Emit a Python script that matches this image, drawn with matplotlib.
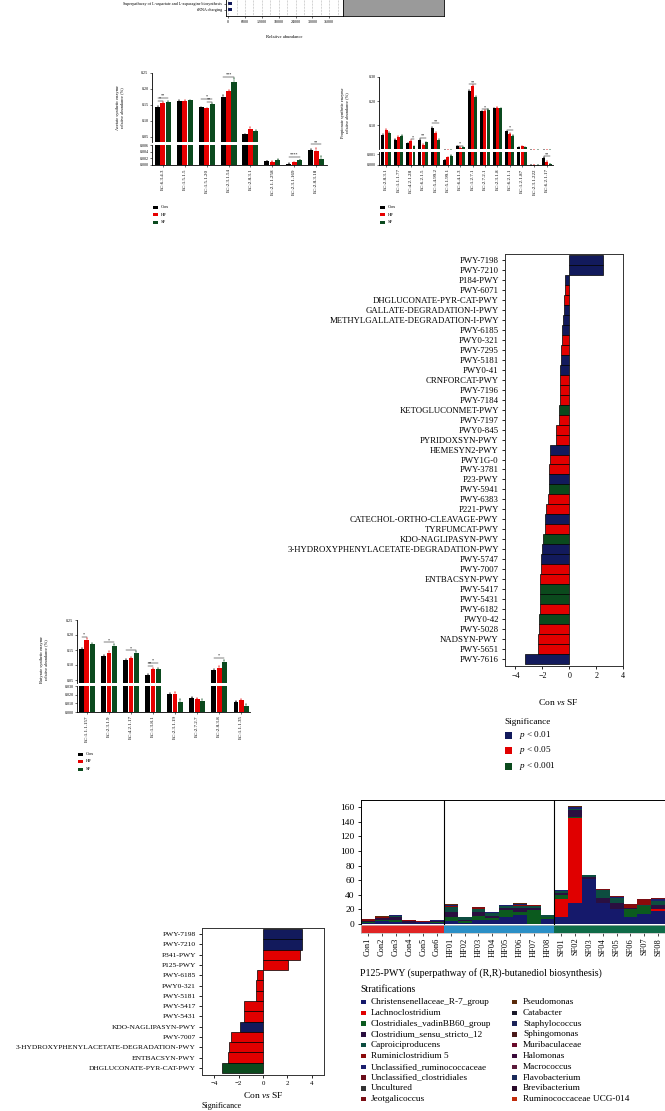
import numpy as np
import matplotlib
matplotlib.use("Agg")
import matplotlib.pyplot as plt
from matplotlib.patches import Rectangle

plt.rcParams["font.family"] = ["Liberation Serif", "DejaVu Serif"]
plt.rcParams["mathtext.fontset"] = "custom"
plt.rcParams["mathtext.rm"] = "Liberation Serif"
plt.rcParams["mathtext.it"] = "Liberation Serif:italic"

W, H = 665, 1111
NAVY, RED, GREEN = "#121a5c", "#e10000", "#0b4a1d"
GRP_COLORS = ["#000000", "#e60000", "#0b4a1e"]
GRP_NAMES = ["Con", "HF", "SF"]

# ── top strip (relative abundance) ───────────────────────────────────────────
top_paths = ["Superpathway of L-aspartate and L-asparagine biosynthesis", "tRNA charging"]
top_vals = [1500, 1500]

# ── acetate synthetic enzymes ────────────────────────────────────────────────
ace_ec = ["EC:6.3.4.3", "EC:1.5.1.5", "EC:1.5.1.20", "EC:2.3.1.54", "EC:2.8.3.1",
          "EC:2.1.1.258", "EC:2.3.1.169", "EC:2.8.3.18"]
ace_con = [0.143, 0.162, 0.142, 0.175, 0.058, 0.0012, 0.0004, 0.0046]
ace_hf = [0.155, 0.162, 0.139, 0.193, 0.075, 0.0010, 0.0008, 0.0043]
ace_sf = [0.158, 0.164, 0.152, 0.222, 0.068, 0.0016, 0.0015, 0.0018]
ace_err_con = [0.003, 0.002, 0.002, 0.006, 0.002, 0.0001, 0.0001, 0.0003]
ace_err_hf = [0.003, 0.002, 0.002, 0.004, 0.006, 0.0001, 0.0001, 0.0007]
ace_err_sf = [0.003, 0.002, 0.003, 0.012, 0.003, 0.0001, 0.0001, 0.0008]
ace_sig = [(0, 0, 1, 0.163, "*"), (0, 0, 2, 0.172, "**"), (2, 0, 2, 0.170, "*"),
           (2, 1, 2, 0.160, "**"), (3, 0, 2, 0.238, "***"), (6, 0, 2, 0.0025, "****"),
           (7, 0, 2, 0.0063, "**")]

# ── propionate synthetic enzymes ─────────────────────────────────────────────
pro_ec = ["EC:2.8.3.1", "EC:1.1.1.77", "EC:4.2.1.28", "EC:6.2.1.5", "EC:5.4.99.2",
          "EC:5.1.99.1", "EC:6.4.1.3", "EC:1.2.7.1", "EC:2.7.2.1", "EC:2.3.1.8",
          "EC:6.2.1.1", "EC:1.2.1.87", "EC:2.3.1.222", "EC:6.2.1.17"]
pro_con = [0.060, 0.042, 0.026, 0.039, 0.089, 0.00047, 0.0135, 0.243, 0.158, 0.172,
           0.076, 0.011, 0.00001, 0.00069]
pro_hf = [0.080, 0.053, 0.036, 0.019, 0.068, 0.0007, 0.009, 0.262, 0.161, 0.174,
          0.066, 0.0135, 0.00001, 0.00028]
pro_sf = [0.069, 0.058, 0.0135, 0.030, 0.039, 0.00085, 0.011, 0.219, 0.165, 0.172,
          0.058, 0.011, 0.00001, 0.0001]
pro_err_con = [0.003, 0.002, 0.003, 0.004, 0.003, 0.00003, 0.002, 0.004, 0.002, 0.002,
               0.003, 0.002, 0.0, 0.00005]
pro_err_hf = [0.004, 0.003, 0.005, 0.003, 0.004, 0.00005, 0.002, 0.006, 0.002, 0.002,
              0.003, 0.002, 0.0, 0.00005]
pro_err_sf = [0.003, 0.003, 0.002, 0.003, 0.005, 0.00005, 0.002, 0.004, 0.002, 0.002,
              0.003, 0.002, 0.0, 0.00002]
pro_sig = [(2, 1, 2, 0.043, "*"), (3, 0, 2, 0.050, "**"), (4, 0, 2, 0.110, "**"),
           (6, 0, 2, 0.017, "*"), (7, 0, 2, 0.270, "**"), (8, 0, 2, 0.168, "*"),
           (10, 0, 2, 0.083, "*"), (13, 0, 2, 0.0008, "**")]

# ── butyrate synthetic enzymes ───────────────────────────────────────────────
but_ec = ["EC:1.1.1.157", "EC:2.3.1.9", "EC:4.2.1.17", "EC:1.3.8.1", "EC:2.3.1.19",
          "EC:2.7.2.7", "EC:2.8.3.8", "EC:1.1.1.35"]
but_con = [0.152, 0.131, 0.117, 0.067, 0.0204, 0.0166, 0.083, 0.0117]
but_hf = [0.183, 0.141, 0.124, 0.086, 0.0208, 0.0155, 0.091, 0.0137]
but_sf = [0.169, 0.164, 0.141, 0.087, 0.011, 0.0125, 0.111, 0.0072]
but_err_con = [0.004, 0.003, 0.003, 0.002, 0.001, 0.001, 0.003, 0.0005]
but_err_hf = [0.008, 0.005, 0.003, 0.004, 0.002, 0.0005, 0.007, 0.0012]
but_err_sf = [0.006, 0.005, 0.005, 0.003, 0.004, 0.003, 0.006, 0.0015]
but_sig = [(0, 0, 1, 0.194, "*"), (1, 0, 2, 0.176, "*"), (2, 0, 2, 0.150, "*"),
           (3, 0, 2, 0.108, "*"), (3, 0, 1, 0.097, "**"), (6, 0, 2, 0.124, "*")]

# ── Con vs SF pathways (large) ───────────────────────────────────────────────
big_paths = ["PWY-7198", "PWY-7210", "P184-PWY", "PWY-6071", "DHGLUCONATE-PYR-CAT-PWY",
             "GALLATE-DEGRADATION-I-PWY", "METHYLGALLATE-DEGRADATION-I-PWY", "PWY-6185",
             "PWY0-321", "PWY-7295", "PWY-5181", "PWY0-41", "CRNFORCAT-PWY", "PWY-7196",
             "PWY-7184", "KETOGLUCONMET-PWY", "PWY-7197", "PWY0-845", "PYRIDOXSYN-PWY",
             "HEMESYN2-PWY", "PWY1G-0", "PWY-3781", "P23-PWY", "PWY-5941", "PWY-6383",
             "P221-PWY", "CATECHOL-ORTHO-CLEAVAGE-PWY", "TYRFUMCAT-PWY", "KDO-NAGLIPASYN-PWY",
             "3-HYDROXYPHENYLACETATE-DEGRADATION-PWY", "PWY-5747", "PWY-7007", "ENTBACSYN-PWY",
             "PWY-5417", "PWY-5431", "PWY-6182", "PWY0-42", "PWY-5028", "NADSYN-PWY",
             "PWY-5651", "PWY-7616"]
big_vals = [2.5, 2.5, -0.30, -0.35, -0.37, -0.42, -0.47, -0.52, -0.57, -0.60, -0.62,
            -0.67, -0.70, -0.72, -0.72, -0.77, -0.75, -0.97, -1.00, -1.42, -1.42, -1.47,
            -1.54, -1.54, -1.57, -1.74, -1.79, -1.79, -1.94, -2.04, -2.09, -2.09, -2.14,
            -2.19, -2.19, -2.19, -2.24, -2.24, -2.36, -2.36, -3.28]
big_sig = ["n", "n", "n", "r", "r", "n", "n", "n", "r", "r", "n", "n", "r", "r", "r",
           "g", "r", "r", "r", "n", "r", "r", "n", "g", "r", "r", "n", "r", "g", "n",
           "n", "r", "r", "g", "g", "r", "g", "r", "r", "r", "n"]

# ── Con vs SF pathways (small) ───────────────────────────────────────────────
small_paths = ["PWY-7198", "PWY-7210", "P341-PWY", "P125-PWY", "PWY-6185", "PWY0-321",
               "PWY-5181", "PWY-5417", "PWY-5431", "KDO-NAGLIPASYN-PWY", "PWY-7007",
               "3-HYDROXYPHENYLACETATE-DEGRADATION-PWY", "ENTBACSYN-PWY",
               "DHGLUCONATE-PYR-CAT-PWY"]
small_vals = [3.22, 3.22, 3.0, 2.08, -0.46, -0.57, -0.57, -1.57, -1.57, -1.89, -2.62,
              -2.78, -2.84, -3.38]
small_sig = ["n", "n", "r", "r", "r", "r", "r", "r", "r", "n", "r", "r", "r", "g"]
SIG_COLORS = {"n": NAVY, "r": RED, "g": GREEN}
sig_labels = ["$p$ < 0.01", "$p$ < 0.05", "$p$ < 0.001"]

# ── P125-PWY stratified abundance ────────────────────────────────────────────
samples = ["Con1", "Con2", "Con3", "Con4", "Con5", "Con6",
           "HF01", "HF02", "HF03", "HF04", "HF05", "HF06", "HF07", "HF08",
           "SF01", "SF02", "SF03", "SF04", "SF05", "SF06", "SF07", "SF08"]
groups = ["Con"] * 6 + ["HF"] * 8 + ["SF"] * 8
chr7 = [1.0, 4.0, 3.0, 1.0, 2.0, 1.5, 3.5, 1.0, 6.0, 5.0, 9.0, 12.0, 0.5, 7.0,
        9.0, 29.0, 62.0, 28.0, 21.0, 10.0, 13.0, 18.0]
lachno = [0, 0, 0, 0, 0, 0, 0, 0, 0, 0, 0, 0, 0, 0,
          25.0, 116.0, 0, 0, 0, 0, 0, 2.0]
vadin = [1.0, 2.0, 2.0, 0.5, 0, 0.5, 6.0, 3.0, 5.0, 3.0, 10.0, 5.0, 18.0, 3.0,
         5.0, 1.0, 0, 0, 0, 10.0, 11.0, 0]
css12 = [2.0, 2.0, 5.0, 2.0, 1.0, 1.5, 7.0, 2.0, 5.0, 3.0, 3.0, 5.0, 3.0, 0,
         3.0, 10.0, 2.0, 8.0, 7.0, 2.0, 0, 6.0]
caproi = [0, 0, 1.0, 0, 0, 0, 7.0, 3.0, 5.0, 4.0, 2.0, 3.0, 3.0, 2.0,
          3.0, 2.0, 3.0, 10.0, 8.0, 0, 2.0, 6.0]
rum5 = [1.5, 2.0, 0, 2.0, 0.5, 1.0, 1.0, 0, 1.0, 0.5, 1.0, 1.0, 1.0, 0.8,
        0, 0, 0, 0, 0, 4.0, 7.0, 0]
unrum = [0, 0, 1.8, 0, 0, 0.5, 1.0, 0.6, 0.5, 0.5, 0.5, 1.0, 0.5, 0,
         1.0, 2.0, 0, 1.0, 1.0, 0, 0, 2.0]
jeot = [1.4, 0, 0, 0, 0.2, 0, 0.5, 0, 0.5, 0.5, 0.5, 0.5, 0, 0,
        0.6, 0, 0, 0.5, 1.0, 1.0, 1.0, 1.0]
pseudo = [0, 1.0, 0, 0, 0, 0, 1.0, 0, 0, 0, 0, 0.5, 0, 0,
          0, 2.0, 0, 0, 0, 0, 0, 0]
strat_col1 = ["Christensenellaceae_R-7_group", "Lachnoclostridium", "Clostridiales_vadinBB60_group",
              "Clostridium_sensu_stricto_12", "Caproiciproducens", "Ruminiclostridium 5",
              "Unclassified_ruminococcaceae", "Unclassified_clostridiales", "Uncultured",
              "Jeotgalicoccus"]
strat_col2 = ["Pseudomonas", "Catabacter", "Staphylococcus", "Sphingomonas", "Muribaculaceae",
              "Halomonas", "Macrococcus", "Flavobacterium", "Brevibacterium",
              "Ruminococcaceae UCG-014"]
col1_colors = ["#15196b", "#e00000", "#0b5a1e", "#2a0f40", "#0d4d40", "#8b0a0a",
               "#1b1f6e", "#6a0d1a", "#333333", "#7a0e14"]
col2_colors = ["#5a2a0a", "#1a1a2a", "#1c2459", "#4a1a1a", "#6a0a2a", "#3a0a3a",
               "#5a1a3a", "#1a2a5a", "#2a0a2a", "#c02a0a"]
GROUP_STRIP = {"Con": "#e02424", "HF": "#2b8fc6", "SF": "#0f6b48"}

fig = plt.figure(figsize=(W / 100, H / 100), dpi=100)


def pax(x0, y0, x1, y1, **kw):
    """axes placed by pixel box (left, top, right, bottom)."""
    return fig.add_axes([x0 / W, 1 - y1 / H, (x1 - x0) / W, (y1 - y0) / H], **kw)


# ── top strip ────────────────────────────────────────────────────────────────
ax = pax(226, -40, 343, 16)
ax.barh([1, 0], top_vals, height=0.5, left=0, color=NAVY)
ax.set_xlim(-800, 40900); ax.set_ylim(-1, 8.3)
ax.set_xticks(np.arange(0, 36001, 6000))
ax.set_xticks(np.arange(0, 40001, 3000), minor=True)
ax.grid(True, axis="x", which="both", ls=":", lw=0.4, color="#777777")
ax.set_yticks([1, 0], top_paths)
ax.tick_params(labelsize=3, length=1.5, width=0.4, pad=1.5)
ax.tick_params(which="minor", length=0)
ax.set_xlabel("Relative abundance", fontsize=3.3, labelpad=8)
for s in ax.spines.values():
    s.set_linewidth(0.6)
gx = pax(343, -40, 444, 16)
gx.set_facecolor("#9a9a9a"); gx.set_xticks([]); gx.set_yticks([])
for s in gx.spines.values():
    s.set_linewidth(0.6)


def broken_panel(top_box, bot_box, cats, vals, errs, ylim_t, ylim_b, ticks_t, ticks_b,
                 xlim, width, sig):
    a1 = pax(*top_box); a2 = pax(*bot_box)
    x = np.arange(len(cats))
    for a in (a1, a2):
        for k in range(3):
            a.bar(x + (k - 1) * width * 1.08, vals[k], width, yerr=errs[k], color=GRP_COLORS[k],
                  error_kw=dict(elinewidth=0.35, capsize=0.7, capthick=0.35, ecolor=GRP_COLORS[k]))
        a.set_xlim(xlim)
        for s in ("top", "right"):
            a.spines[s].set_visible(False)
        a.spines["left"].set_linewidth(0.6)
        a.spines["bottom"].set_linewidth(0.6)
        a.tick_params(labelsize=3, length=1.5, width=0.4, pad=1)
    a1.set_ylim(ylim_t); a2.set_ylim(ylim_b)
    a1.set_yticks(ticks_t); a2.set_yticks(ticks_b)
    a1.set_yticklabels([f"{t:.2f}" if t >= 0.01 else f"{t:.3f}" for t in ticks_t])
    a2.set_yticklabels([f"{t:.3f}" for t in ticks_b])
    a1.spines["bottom"].set_visible(False)
    a1.set_xticks([])
    a2.set_xticks(x, cats, rotation=90, fontsize=3.6)
    for g, i, j, yv, lab in sig:
        a = a1 if yv > ylim_t[0] else a2
        x0 = g + (i - 1) * width * 1.08
        x1 = g + (j - 1) * width * 1.08
        a.plot([x0, x1], [yv, yv], color="k", lw=0.35, clip_on=False)
        a.text((x0 + x1) / 2, yv, lab, ha="center", va="bottom", fontsize=3, clip_on=False)
    return a1, a2


broken_panel((152, 73, 327, 142), (152, 145, 327, 165), ace_ec,
             [ace_con, ace_hf, ace_sf], [ace_err_con, ace_err_hf, ace_err_sf],
             (0.034, 0.25), (0, 0.006), [0.05, 0.10, 0.15, 0.20, 0.25],
             [0, 0.002, 0.004, 0.006], (-0.5, 7.5), 0.23, ace_sig)
broken_panel((379, 77, 553, 149), (379, 152, 553, 165), pro_ec,
             [pro_con, pro_hf, pro_sf], [pro_err_con, pro_err_hf, pro_err_sf],
             (0.003, 0.3), (0, 0.0012), [0.1, 0.2, 0.3], [0, 0.001],
             (-0.57, 13.5), 0.24, pro_sig)
broken_panel((77, 620, 250, 683), (77, 686, 250, 712), but_ec,
             [but_con, but_hf, but_sf], [but_err_con, but_err_hf, but_err_sf],
             (0.04, 0.25), (0, 0.03), [0.05, 0.10, 0.15, 0.20, 0.25],
             [0, 0.01, 0.02, 0.03], (-0.45, 7.4), 0.22, but_sig)


# ── Con vs SF bar charts ─────────────────────────────────────────────────────
def sig_barh(box, names, vals, sig, xlim, fs):
    a = pax(*box)
    y = np.arange(len(names))
    a.barh(y, vals, height=1.0, color=[SIG_COLORS[s] for s in sig],
           edgecolor="black", linewidth=0.5)
    a.set_ylim(len(names) - 0.3, -0.6)
    a.set_xlim(xlim)
    a.set_yticks(y, names)
    a.set_xticks([-4, -2, 0, 2, 4], ["\u22124", "\u22122", "0", "2", "4"])
    a.tick_params(axis="y", labelsize=fs, length=2.5, width=0.6, pad=2)
    a.tick_params(axis="x", labelsize=fs * 0.92, length=2.5, width=0.6, pad=2)
    for s in a.spines.values():
        s.set_linewidth(0.7); s.set_color("#333333")
    return a


sig_barh((505, 254, 623, 666), big_paths, big_vals, big_sig, (-4.78, 3.9), 6.3)
sig_barh((202, 928, 324, 1075), small_paths, small_vals, small_sig, (-5, 5), 5.4)

# ── stratified stacked bars ──────────────────────────────────────────────────
sx = pax(361, 800, 665, 925)
xs = np.arange(len(samples))
bottom = np.zeros(len(samples))
layers = [(chr7, col1_colors[0]), (lachno, col1_colors[1]), (vadin, col1_colors[2]),
          (css12, col1_colors[3]), (caproi, col1_colors[4]), (rum5, col1_colors[5]),
          (unrum, col1_colors[6]), (jeot, col1_colors[9]), (pseudo, col2_colors[0])]
for vals, c in layers:
    v = np.asarray(vals, dtype=float)
    sx.bar(xs, v, 1.0, bottom=bottom, color=c, linewidth=0)
    bottom += v
sx.axvline(5.5, color="k", lw=0.8); sx.axvline(13.5, color="k", lw=0.8)
sx.set_xlim(-0.5, 21.5); sx.set_ylim(-1.5, 170)
sx.set_yticks(np.arange(0, 161, 20))
sx.set_xticks([])
sx.tick_params(axis="y", labelsize=6.8, length=2.5, width=0.6, pad=2)
for s in sx.spines.values():
    s.set_linewidth(0.7)

st = pax(361, 925, 665, 933)
st.bar(xs, np.ones(len(xs)), 1.0, color=[GROUP_STRIP[g] for g in groups], linewidth=0)
st.set_xlim(-0.5, 21.5); st.set_ylim(0, 1)
st.set_yticks([])
st.set_xticks(xs, samples, rotation=90, fontsize=6)
st.tick_params(axis="x", length=2, width=0.5, pad=1.5)
for s in st.spines.values():
    s.set_linewidth(0.5); s.set_color("#bbbbbb")

# ── overlay: free text and legend keys in pixel coordinates ──────────────────
ov = fig.add_axes([0, 0, 1, 1])
ov.set_xlim(0, W); ov.set_ylim(H, 0); ov.axis("off"); ov.patch.set_alpha(0)


def key(x, y, w, h, color):
    ov.add_patch(Rectangle((x, y - h / 2), w, h, color=color, lw=0))


# enzyme panel labels and legends
ov.text(120, 108, "Acetate synthetic enzyme\nrelative abundance (%)", rotation=90,
        ha="center", va="center", fontsize=3.2, linespacing=1.1)
ov.text(345, 113, "Propionate synthetic enzyme\nrelative abundance (%)", rotation=90,
        ha="center", va="center", fontsize=3.2, linespacing=1.1)
ov.text(44, 660, "Butyrate synthetic enzyme\nrelative abundance (%)", rotation=90,
        ha="center", va="center", fontsize=3.2, linespacing=1.1)
for lx, ly in [(153, 207), (380, 207), (78, 754)]:
    for k in range(3):
        key(lx, ly + k * 7.5, 5, 3, GRP_COLORS[k])
        ov.text(lx + 8, ly + k * 7.5, GRP_NAMES[k], fontsize=3.4, va="center")

# Con vs SF labels and significance legend
ov.text(558, 702, "Con $\\it{vs}$ SF", ha="center", va="center", fontsize=6.8)
ov.text(504, 722, "Significance", ha="left", va="center", fontsize=6.6)
for k, c in enumerate([NAVY, RED, GREEN]):
    key(505, 735 + k * 15.5, 7, 7, c)
    ov.text(519, 735 + k * 15.5, sig_labels[k], ha="left", va="center", fontsize=6.6)
ov.text(263, 1095, "Con $\\it{vs}$ SF", ha="center", va="center", fontsize=6.8)
ov.text(202, 1102, "Significance", ha="left", va="top", fontsize=5.8)

# stratification caption and legend
ov.text(360, 973, "P125-PWY (superpathway of (R,R)-butanediol biosynthesis)",
        ha="left", va="center", fontsize=7.1)
ov.text(360, 990, "Stratifications", ha="left", va="center", fontsize=7)
for k in range(10):
    yy = 1002 + k * 10.8
    key(361, yy, 4.5, 4.5, col1_colors[k])
    ov.text(371, yy, strat_col1[k], ha="left", va="center", fontsize=6.7)
    key(512, yy, 4.5, 4.5, col2_colors[k])
    ov.text(523, yy, strat_col2[k], ha="left", va="center", fontsize=6.7)

fig.savefig("out.png", dpi=100)
